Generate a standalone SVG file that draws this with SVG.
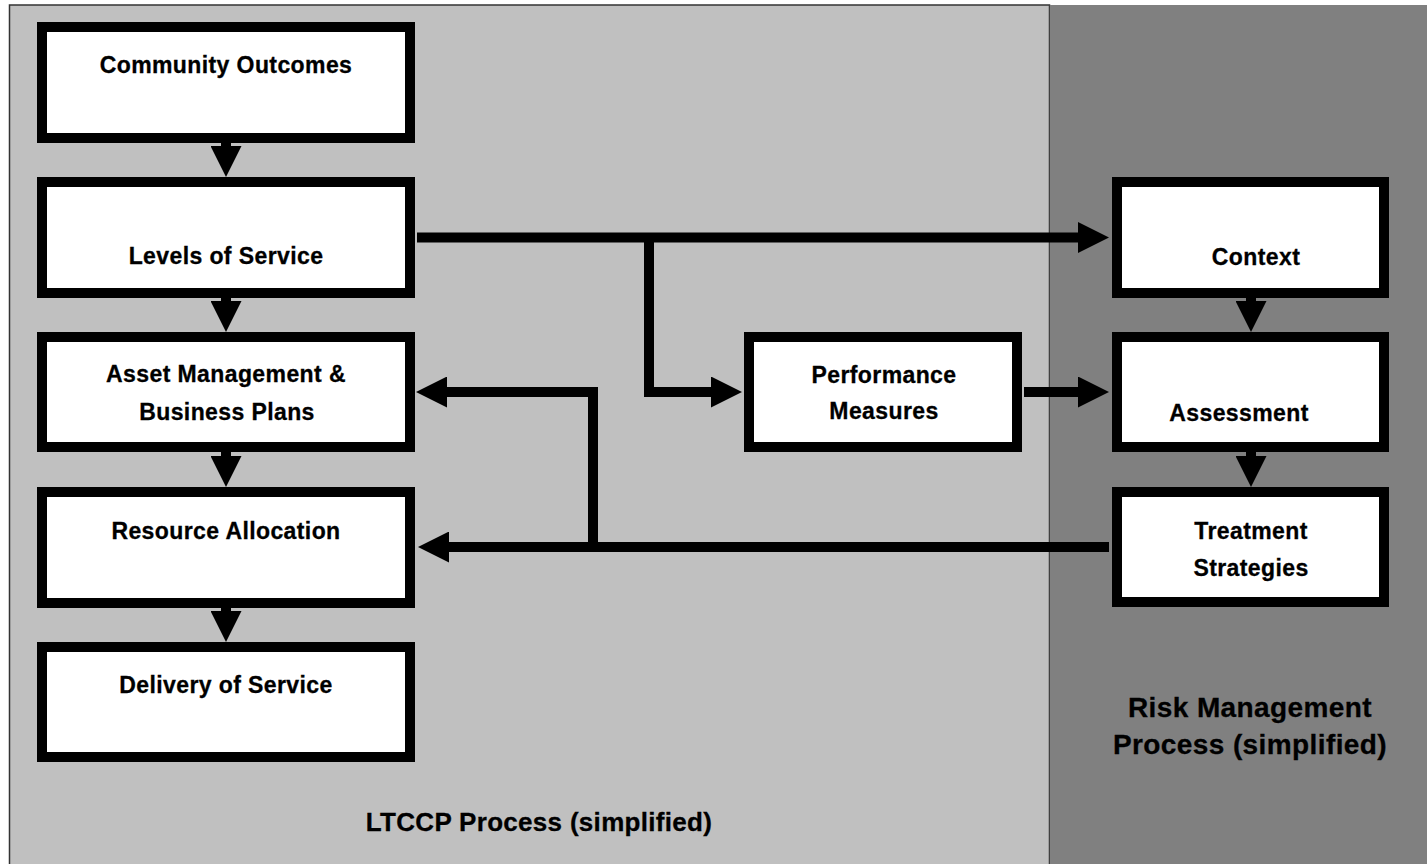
<svg xmlns="http://www.w3.org/2000/svg" width="1427" height="864" viewBox="0 0 1427 864">
  <defs>
    <style>
      .box { fill: #ffffff; stroke: #000000; stroke-width: 10; }
      .lbl { font-family: "Liberation Sans", Arial, sans-serif; font-weight: bold; font-size: 23px; letter-spacing: 0.4px; fill: #000000; stroke: #000000; stroke-width: 0.3; text-anchor: middle; }
      .panel { font-family: "Liberation Sans", Arial, sans-serif; font-weight: bold; fill: #000000; stroke: #000000; stroke-width: 0.3; text-anchor: middle; }
      .conn { fill: none; stroke: #000000; stroke-width: 10; stroke-linejoin: miter; stroke-linecap: butt; marker-end: url(#arrow); }
    </style>
    <marker id="arrow" viewBox="0 0 31 31" markerWidth="31" markerHeight="31" markerUnits="userSpaceOnUse" refX="0" refY="15.5" orient="auto">
      <polygon points="0,0 31,15.5 0,31" fill="#000000"/>
    </marker>
  </defs>

  <g id="background">
    <rect x="9.5" y="5" width="1040" height="870" fill="#C0C0C0" stroke="#333333" stroke-width="1.5"/>
    <rect x="1049.5" y="5" width="378" height="860" fill="#808080"/>
    <line x1="1049.5" y1="5" x2="1049.5" y2="864" stroke="#404040" stroke-width="1"/>
    <text class="panel" x="539" y="831" font-size="26" letter-spacing="0.3">LTCCP Process (simplified)</text>
    <text class="panel" x="1250" y="717" font-size="28" letter-spacing="0.4">Risk Management</text>
    <text class="panel" x="1250" y="754" font-size="28" letter-spacing="0.4">Process (simplified)</text>
  </g>

  <g id="connectors">
    <path class="conn" d="M226,143 V146"/>
    <path class="conn" d="M226,298 V301"/>
    <path class="conn" d="M226,452 V456"/>
    <path class="conn" d="M226,608 V611"/>
    <path class="conn" d="M1251,298 V301"/>
    <path class="conn" d="M1251,452 V456"/>
    <path class="conn" d="M417,237.5 H1078"/>
    <path class="conn" d="M649,237.5 V392 H711"/>
    <path class="conn" d="M1024,392 H1078"/>
    <path class="conn" d="M1109,547 H449"/>
    <path class="conn" d="M593,547 V392 H447"/>
  </g>

  <g id="community-outcomes">
    <rect class="box" x="42" y="27" width="368" height="111"/>
    <text class="lbl" x="226" y="73">Community Outcomes</text>
  </g>
  <g id="levels-of-service">
    <rect class="box" x="42" y="182" width="368" height="111"/>
    <text class="lbl" x="226" y="264">Levels of Service</text>
  </g>
  <g id="asset-management">
    <rect class="box" x="42" y="337" width="368" height="110"/>
    <text class="lbl" x="226" y="382">Asset Management &amp;</text>
    <text class="lbl" x="227" y="420">Business Plans</text>
  </g>
  <g id="resource-allocation">
    <rect class="box" x="42" y="492" width="368" height="111"/>
    <text class="lbl" x="226" y="539">Resource Allocation</text>
  </g>
  <g id="delivery-of-service">
    <rect class="box" x="42" y="647" width="368" height="110"/>
    <text class="lbl" x="226" y="693">Delivery of Service</text>
  </g>
  <g id="performance-measures">
    <rect class="box" x="749" y="337" width="268" height="110"/>
    <text class="lbl" x="884" y="383">Performance</text>
    <text class="lbl" x="884" y="419">Measures</text>
  </g>
  <g id="context">
    <rect class="box" x="1117" y="182" width="267" height="111"/>
    <text class="lbl" x="1256" y="265">Context</text>
  </g>
  <g id="assessment">
    <rect class="box" x="1117" y="337" width="267" height="110"/>
    <text class="lbl" x="1239" y="421">Assessment</text>
  </g>
  <g id="treatment-strategies">
    <rect class="box" x="1117" y="492" width="267" height="110"/>
    <text class="lbl" x="1251" y="539">Treatment</text>
    <text class="lbl" x="1251" y="576">Strategies</text>
  </g>
</svg>
